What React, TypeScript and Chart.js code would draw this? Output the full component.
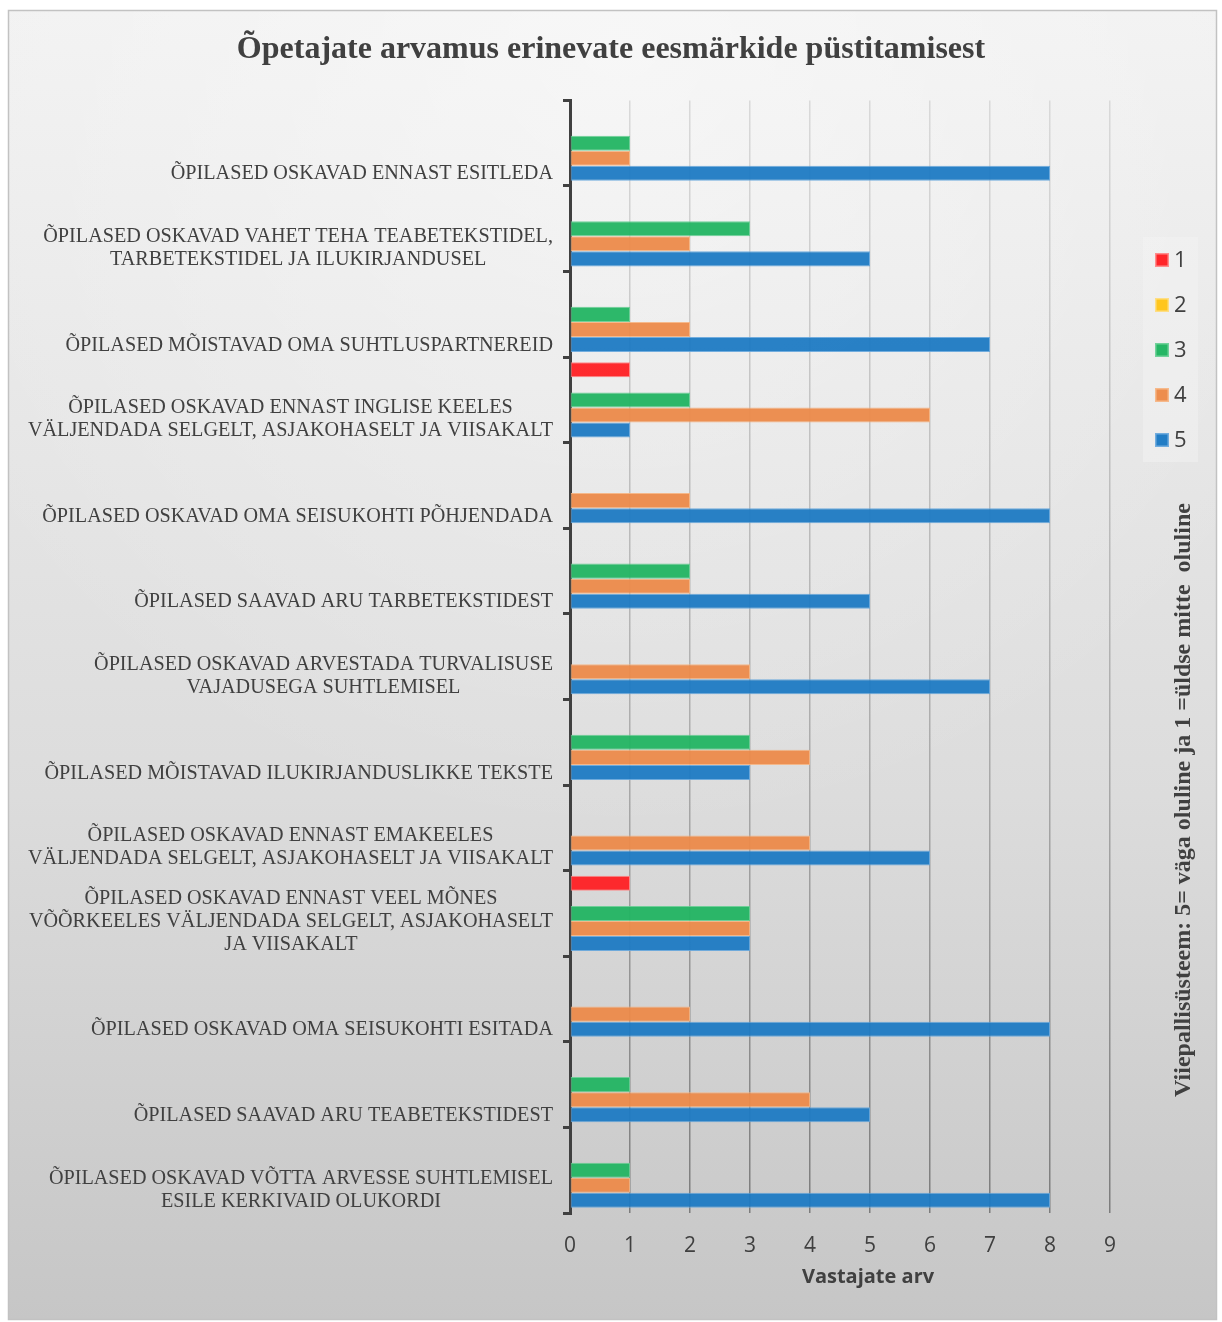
import React, { useEffect, useRef } from 'react';
import { Chart, registerables } from 'chart.js';

Chart.register(...registerables);

const categories: string[][] = [
  ['ÕPILASED OSKAVAD ENNAST ESITLEDA'],
  ['ÕPILASED OSKAVAD VAHET TEHA TEABETEKSTIDEL,', 'TARBETEKSTIDEL JA ILUKIRJANDUSEL'],
  ['ÕPILASED MÕISTAVAD OMA SUHTLUSPARTNEREID'],
  ['ÕPILASED OSKAVAD ENNAST INGLISE KEELES', 'VÄLJENDADA SELGELT, ASJAKOHASELT JA VIISAKALT'],
  ['ÕPILASED OSKAVAD OMA SEISUKOHTI PÕHJENDADA'],
  ['ÕPILASED SAAVAD ARU TARBETEKSTIDEST'],
  ['ÕPILASED OSKAVAD ARVESTADA TURVALISUSE', 'VAJADUSEGA SUHTLEMISEL'],
  ['ÕPILASED MÕISTAVAD ILUKIRJANDUSLIKKE TEKSTE'],
  ['ÕPILASED OSKAVAD ENNAST EMAKEELES', 'VÄLJENDADA SELGELT, ASJAKOHASELT JA VIISAKALT'],
  ['ÕPILASED OSKAVAD ENNAST VEEL MÕNES', 'VÕÕRKEELES VÄLJENDADA SELGELT, ASJAKOHASELT', 'JA VIISAKALT'],
  ['ÕPILASED OSKAVAD OMA SEISUKOHTI ESITADA'],
  ['ÕPILASED SAAVAD ARU TEABETEKSTIDEST'],
  ['ÕPILASED OSKAVAD VÕTTA ARVESSE SUHTLEMISEL', 'ESILE KERKIVAID OLUKORDI'],
];

const seriesLabels = ['1', '2', '3', '4', '5'];
const values1 = [0, 0, 0, 1, 0, 0, 0, 0, 0, 1, 0, 0, 0];
const values2 = [0, 0, 0, 0, 0, 0, 0, 0, 0, 0, 0, 0, 0];
const values3 = [1, 3, 1, 2, 0, 2, 0, 3, 0, 3, 0, 1, 1];
const values4 = [1, 2, 2, 6, 2, 2, 3, 4, 4, 3, 2, 4, 1];
const values5 = [8, 5, 7, 1, 8, 5, 7, 3, 6, 3, 8, 5, 8];
const xTicks = [0, 1, 2, 3, 4, 5, 6, 7, 8, 9];

const title = 'Õpetajate arvamus erinevate eesmärkide püstitamisest';
const xTitle = 'Vastajate arv';
const sideNote = 'Viiepallisüsteem: 5= väga oluline ja 1 =üldse mitte  oluline';

const fills = ['rgba(255,32,36,0.95)', 'rgba(255,196,24,0.95)', 'rgba(34,180,98,0.95)', 'rgba(236,138,74,0.95)', 'rgba(30,122,195,0.95)'];
const borders = ['rgba(255,130,130,0.9)', 'rgba(255,220,120,0.9)', 'rgba(100,205,145,0.9)', 'rgba(246,178,128,0.9)', 'rgba(100,165,220,0.9)'];

const W = 1222;
const H = 1322;

const bgPlugin = {
  id: 'bgPlugin',
  beforeDraw(chart: any) {
    const ctx = chart.ctx;
    ctx.save();
    ctx.fillStyle = '#ffffff';
    ctx.fillRect(0, 0, W, H);
    const x0 = 8, y0 = 10, x1 = 1217, y1 = 1320;
    const lg = ctx.createLinearGradient(0, y0, 0, y1);
    lg.addColorStop(0, '#f1f1f1');
    lg.addColorStop(0.6, '#dcdcdc');
    lg.addColorStop(1, '#c6c6c6');
    ctx.fillStyle = lg;
    ctx.fillRect(x0, y0, x1 - x0, y1 - y0);
    const rg = ctx.createRadialGradient(620, 40, 10, 620, 40, 800);
    rg.addColorStop(0, 'rgba(255,255,255,0.45)');
    rg.addColorStop(1, 'rgba(255,255,255,0)');
    ctx.fillStyle = rg;
    ctx.fillRect(x0, y0, x1 - x0, y1 - y0);
    ctx.strokeStyle = '#c2c2c2';
    ctx.lineWidth = 1.5;
    ctx.strokeRect(x0 + 0.5, y0 + 0.5, x1 - x0 - 1, y1 - y0 - 1);
    ctx.restore();
  },
  afterDraw(chart: any) {
    const ctx = chart.ctx;
    const yScale = chart.scales.y;
    ctx.save();

    // category labels: block right-aligned to the axis, lines centred within block,
    // last line level with the bottom bar of each group
    ctx.fillStyle = '#404040';
    ctx.font = '20.2px "Liberation Serif", serif';
    ctx.textBaseline = 'middle';
    ctx.textAlign = 'center';
    const lineH = 23;
    const rightEdge = yScale.right - 17;
    categories.forEach((lines, i) => {
      const py = yScale.getPixelForValue(i) + 31;
      const blockW = Math.max(...lines.map((l) => ctx.measureText(l).width));
      const cx = rightEdge - blockW / 2;
      lines.forEach((l, j) => {
        ctx.fillText(l, cx, py - (lines.length - 1 - j) * lineH);
      });
    });

    // x axis title
    ctx.font = 'bold 20px "Open Sans", sans-serif';
    ctx.fillText(xTitle, 868, 1277);

    // legend
    ctx.fillStyle = 'rgba(245,245,245,0.45)';
    ctx.fillRect(1143, 237, 55, 225);
    ctx.font = '22px "Open Sans", sans-serif';
    ctx.textAlign = 'left';
    chart.data.datasets.forEach((ds: any, i: number) => {
      const cy = 260 + i * 45;
      ctx.fillStyle = ds.borderColor;
      ctx.fillRect(1155, cy - 7, 14, 14);
      ctx.fillStyle = ds.backgroundColor;
      ctx.fillRect(1156.5, cy - 5.5, 11, 11);
      ctx.fillStyle = '#404040';
      ctx.fillText(ds.label, 1174, cy + 1);
    });

    // side note
    ctx.translate(1184, 800);
    ctx.rotate(-Math.PI / 2);
    ctx.font = 'bold 24px "Liberation Serif", serif';
    ctx.textAlign = 'center';
    ctx.fillStyle = '#404040';
    ctx.fillText(sideNote, 0, 0);
    ctx.restore();
  },
};

export default function App() {
  const ref = useRef<HTMLCanvasElement | null>(null);
  useEffect(() => {
    if (!ref.current) return;
    const labels = categories.map((lines) => lines.join(' '));
    const allValues = [values1, values2, values3, values4, values5];
    const gridColor = (c: any) => {
      const chart = c.chart;
      const area = chart.chartArea;
      if (c.index === 0) return 'rgba(0,0,0,0)';
      if (!area) return '#bbbbbb';
      const g = chart.ctx.createLinearGradient(0, area.top, 0, area.bottom);
      g.addColorStop(0, '#d9d9d9');
      g.addColorStop(0.6, '#aaaaaa');
      g.addColorStop(1, '#7c7c7c');
      return g;
    };
    const chart = new Chart(ref.current, {
      type: 'bar',
      data: {
        labels,
        datasets: seriesLabels.map((lab, i) => ({
          label: lab,
          data: allValues[i],
          backgroundColor: fills[i],
          borderColor: borders[i],
          borderWidth: 1,
          borderSkipped: false,
          categoryPercentage: 0.88,
          barPercentage: 1,
        })),
      },
      options: {
        indexAxis: 'y',
        animation: false,
        responsive: false,
        maintainAspectRatio: false,
        layout: { padding: 0 },
        plugins: {
          legend: { display: false },
          tooltip: { enabled: false },
          title: {
            display: true,
            text: title,
            color: '#404040',
            font: { family: '"Liberation Serif", serif', size: 32, weight: 'bold', lineHeight: 1.2 },
            padding: { top: 31, bottom: 31 },
          },
        },
        scales: {
          x: {
            type: 'linear',
            min: 0,
            max: 9,
            afterBuildTicks: (scale: any) => {
              scale.ticks = xTicks.map((v) => ({ value: v }));
            },
            afterFit: (scale: any) => {
              scale.height = H - 1213;
            },
            ticks: {
              stepSize: 1,
              color: '#404040',
              font: { family: '"Open Sans", sans-serif', size: 21 },
              padding: 20,
            },
            grid: {
              color: gridColor,
              lineWidth: 1.5,
              drawTicks: false,
            },
            border: { display: false },
          },
          y: {
            type: 'category',
            afterFit: (scale: any) => {
              scale.width = 570;
            },
            ticks: {
              display: false,
              autoSkip: false,
            },
            grid: {
              offset: true,
              drawOnChartArea: false,
              drawTicks: true,
              tickLength: 7,
              color: '#404040',
              lineWidth: 3,
            },
            border: { display: true, color: '#404040', width: 3 },
          },
          yRight: {
            type: 'linear',
            position: 'right',
            display: true,
            afterFit: (scale: any) => {
              scale.width = W - 1110;
            },
            ticks: { display: false },
            grid: { display: false, drawTicks: false },
            border: { display: false },
          },
        },
      },
      plugins: [bgPlugin],
    } as any);
    return () => chart.destroy();
  }, []);
  return (
    <div style={{ position: 'absolute', left: 0, top: 0, width: W, height: H }}>
      <canvas ref={ref} width={W} height={H} style={{ width: W, height: H, display: 'block' }} />
    </div>
  );
}
